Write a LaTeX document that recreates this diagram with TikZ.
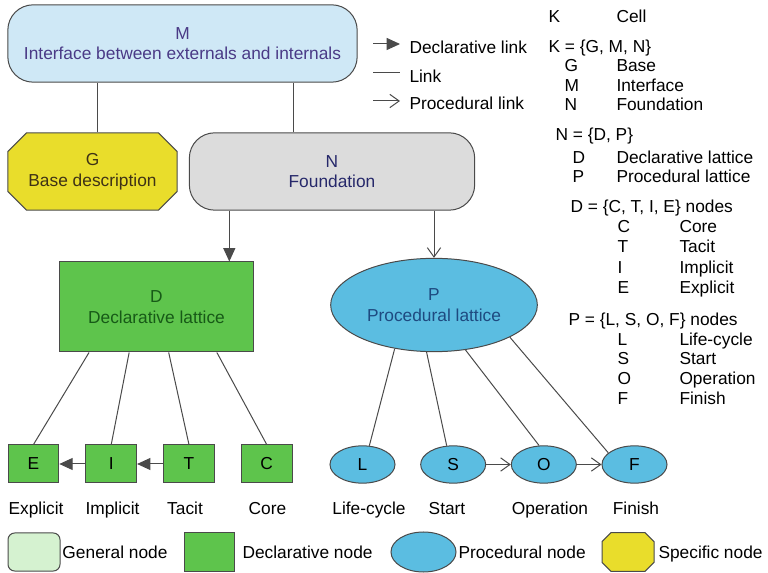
\documentclass[tikz,border=0pt]{standalone}
\usepackage{fontspec}
\setmainfont{Liberation Sans}
\usepackage{xcolor}
\usetikzlibrary{arrows.meta,shapes.geometric,shapes.misc,positioning}
\definecolor{mblue}{HTML}{CFE8F6}
\definecolor{nfgray}{HTML}{DCDCDC}
\definecolor{gyellow}{HTML}{E9DD2B}
\definecolor{dgreen}{HTML}{5EC44C}
\definecolor{pblue}{HTML}{5BBDE1}
\definecolor{lgreen}{HTML}{D5F2D0}
\definecolor{edgegray}{HTML}{4A4A4A}
\definecolor{mtext}{HTML}{4A3A86}
\definecolor{ntext}{HTML}{26286A}
\definecolor{dtext}{HTML}{175A17}
\definecolor{ptext}{HTML}{1E4A80}
\definecolor{gtext}{HTML}{3E3216}
\tikzset{
	decl/.style={-{Triangle[length=10pt,width=9pt]}},
	proc/.style={-{Straight Barb[length=7pt,width=10pt]}}
}

\begin{document}
\begin{tikzpicture}[x=0.75pt, y=-0.75pt, line width=0.75pt, draw=edgegray, node distance = {58.3pt},
font=\fontsize{13}{15.5}\selectfont,
general/.style = {draw=edgegray, rectangle, rounded corners=19pt, align=center},
specific/.style = {draw=edgegray, chamfered rectangle, fill=gyellow, align=center},
declbox/.style = {draw=edgegray, rectangle, fill=dgreen, align=center, minimum width=38pt, minimum height=28.5pt},
procnode/.style = {draw=edgegray, ellipse, fill=pblue, inner sep=0pt, align=center, minimum width=48.75pt, minimum height=28pt},
lbl/.style = {inner sep=0pt, text height=9.4pt, text depth=0pt},
txt/.style = {lbl, anchor=west}]
    \useasboundingbox (0,0) rectangle (768,573);

    \node[general, fill=mblue, text=mtext, minimum width=262pt, minimum height=58pt](M) at (182.5,43.5) {M\\Interface between externals and internals};
    \node[specific, text=gtext, minimum width=127pt, minimum height=58pt, chamfered rectangle xsep=6pt, chamfered rectangle ysep=8pt](G) at (92.5,171.5) {G\\Base description};
    \node[general, fill=nfgray, text=ntext, minimum width=214pt, minimum height=58pt](N) at (332,171.5) {N\\Foundation};

    \node[declbox, text=dtext, minimum width=145pt, minimum height=67.5pt](D) at (156.5,307) {D\\Declarative lattice};
    \node[procnode, text=ptext, minimum width=155pt, minimum height=70pt](P) at (434,305) {P\\Procedural lattice};

    \node[declbox](E) at (33.5,464) {E};
    \node[declbox, right of=E](I) {I};
    \node[declbox, right of=I](T) {T};
    \node[declbox, right of=T](C) {C};

    \node[procnode](L) at (362.5,464.5) {L};
    \node[procnode, right of=L, node distance=68pt](S) {S};
    \node[procnode, right of=S, node distance=68pt](O) {O};
    \node[procnode, right of=O, node distance=68pt](F) {F};

    \node[lbl](lE) at (36,508) {Explicit};
    \node[lbl](lI) at (112.5,508) {Implicit};
    \node[lbl](lT) at (185,508) {Tacit};
    \node[lbl](lC) at (267.5,508) {Core};
    \node[lbl](lL) at (369,508) {Life-cycle};
    \node[lbl](lS) at (447,508) {Start};
    \node[lbl](lO) at (550,508) {Operation};
    \node[lbl](lF) at (636,508) {Finish};

    \draw ([xshift=4pt]G.north) -- ([xshift=4pt]G.north |- M.south);
    \draw ([xshift=-29pt]N.north) -- ([xshift=-29pt]N.north |- M.south);
    \draw[decl] (D.32 |- N.south) -- (D.32);
    \draw[proc] (P.north |- N.south) -- (P.north);

    \draw (D.214) -- (E.north);
    \draw (D.239) -- (I.north);
    \draw (D.285) -- (T.north);
    \draw (D.323) -- (C.north);
    \draw[decl] (T) -- (I);
    \draw[decl] (I) -- (E);

    \draw (P.228) -- (L.70);
    \draw (P.261) -- (S.109);
    \draw (P.305) -- (O.104);
    \draw (P.337) -- (F.156);
    \draw[proc] (S) -- (O);
    \draw[proc] (O) -- (F);

    \coordinate (dl1) at (373,44);
    \coordinate (dl2) at (400,44);
    \coordinate (ln1) at (373,73);
    \coordinate (ln2) at (400,73);
    \coordinate (pl1) at (373,101);
    \coordinate (pl2) at (400,101);
    \draw[decl] (dl1) -- (dl2);
    \draw (ln1) -- (ln2);
    \draw[proc] (pl1) -- (pl2);
    \node[txt](kdl) at (409,47) {Declarative link};
    \node[txt](kln) at (409,76) {Link};
    \node[txt](kpl) at (409,103) {Procedural link};

    \node[txt](k1) at (548,16) {K};
    \node[txt](k1t) at (616,16) {Cell};
    \node[txt](k2) at (548,46) {K = \{G, M, N\}};
    \node[txt](kG) at (564,65) {G};
    \node[txt](kGt) at (616,65) {Base};
    \node[txt](kM) at (564,85) {M};
    \node[txt](kMt) at (616,85) {Interface};
    \node[txt](kN) at (564,104) {N};
    \node[txt](kNt) at (616,104) {Foundation};
    \node[txt](k3) at (555,134) {N = \{D, P\}};
    \node[txt](kD) at (572,157) {D};
    \node[txt](kDt) at (616,157) {Declarative lattice};
    \node[txt](kP) at (572,176) {P};
    \node[txt](kPt) at (616,176) {Procedural lattice};
    \node[txt](k4) at (570,206) {D = \{C, T, I, E\} nodes};
    \node[txt](kC) at (617,226) {C};
    \node[txt](kCt) at (679,226) {Core};
    \node[txt](kT) at (617,246) {T};
    \node[txt](kTt) at (679,246) {Tacit};
    \node[txt](kI) at (617,267) {I};
    \node[txt](kIt) at (679,267) {Implicit};
    \node[txt](kE) at (617,287) {E};
    \node[txt](kEt) at (679,287) {Explicit};
    \node[txt](k5) at (568,319) {P = \{L, S, O, F\} nodes};
    \node[txt](kL) at (617,339) {L};
    \node[txt](kLt) at (679,339) {Life-cycle};
    \node[txt](kS) at (617,358) {S};
    \node[txt](kSt) at (679,358) {Start};
    \node[txt](kO) at (617,378) {O};
    \node[txt](kOt) at (679,378) {Operation};
    \node[txt](kF) at (617,398) {F};
    \node[txt](kFt) at (679,398) {Finish};

    \node[general, fill=lgreen, rounded corners=5pt, minimum width=39pt, minimum height=28.5pt](kg) at (34,552) {};
    \node[txt](kgt) at (62,552) {General node};
    \node[declbox, minimum width=37.5pt](kd) at (209,552) {};
    \node[txt](kdt) at (242,552) {Declarative node};
    \node[procnode, minimum height=30pt](kp) at (423.5,552) {};
    \node[txt](kpt) at (458,552) {Procedural node};
    \node[specific, minimum width=39pt, minimum height=29pt, chamfered rectangle xsep=4pt, chamfered rectangle ysep=5pt](ks) at (628,552) {};
    \node[txt](kst) at (658,552) {Specific node};
\end{tikzpicture}
\end{document}
